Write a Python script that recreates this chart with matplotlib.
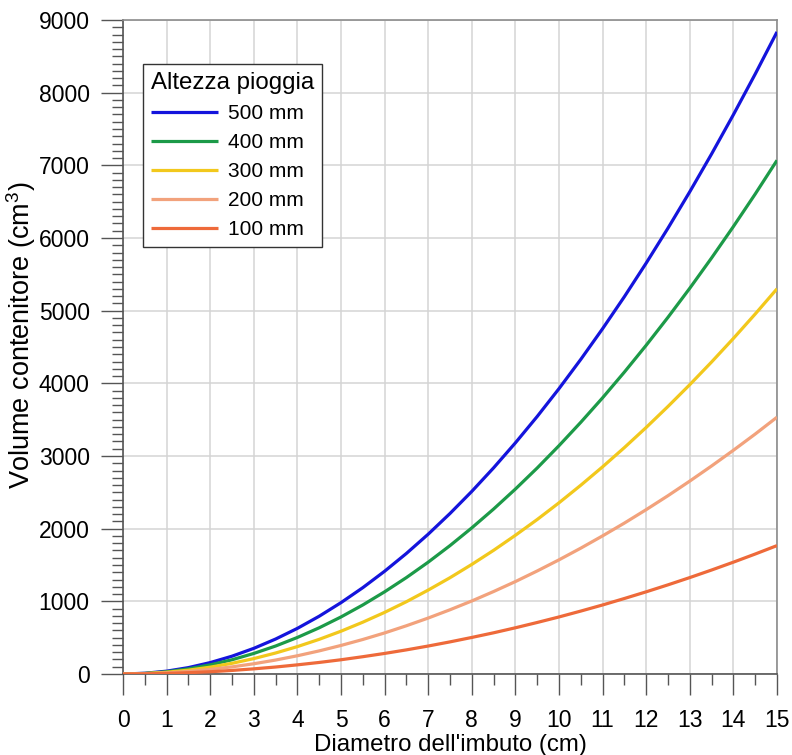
import matplotlib
matplotlib.use("Agg")
import matplotlib.pyplot as plt
from matplotlib.ticker import MultipleLocator

plt.rcParams['font.family'] = ['Liberation Sans', 'DejaVu Sans']
plt.rcParams['mathtext.fontset'] = 'custom'
plt.rcParams['mathtext.rm'] = 'Liberation Sans'

# ----------------------------------------------------------------------------------------------------------------------
# Data: diametro (cm) vs volume (cm3) for each rain height
diametro = [0, 0.5, 1, 1.5, 2, 2.5, 3, 3.5, 4, 4.5, 5, 5.5, 6, 6.5, 7, 7.5,
            8, 8.5, 9, 9.5, 10, 10.5, 11, 11.5, 12, 12.5, 13, 13.5, 14, 14.5, 15]

vol_500 = [0, 10, 39, 88, 157, 245, 353, 481, 628, 795, 982, 1188, 1414, 1659, 1924, 2209,
           2513, 2837, 3181, 3544, 3927, 4330, 4752, 5193, 5655, 6136, 6637, 7157, 7697, 8256, 8836]
vol_400 = [0, 8, 31, 71, 126, 196, 283, 385, 503, 636, 785, 950, 1131, 1327, 1539, 1767,
           2011, 2270, 2545, 2835, 3142, 3464, 3801, 4155, 4524, 4909, 5309, 5726, 6158, 6605, 7069]
vol_300 = [0, 6, 24, 53, 94, 147, 212, 289, 377, 477, 589, 713, 848, 995, 1155, 1325,
           1508, 1702, 1909, 2126, 2356, 2598, 2851, 3116, 3393, 3682, 3982, 4294, 4618, 4954, 5301]
vol_200 = [0, 4, 16, 35, 63, 98, 141, 192, 251, 318, 393, 475, 565, 664, 770, 884,
           1005, 1135, 1272, 1418, 1571, 1732, 1901, 2077, 2262, 2454, 2655, 2863, 3079, 3302, 3534]
vol_100 = [0, 2, 8, 18, 31, 49, 71, 96, 126, 159, 196, 238, 283, 332, 385, 442,
           503, 567, 636, 709, 785, 866, 950, 1039, 1131, 1227, 1327, 1431, 1539, 1651, 1767]

etichette = ['500 mm', '400 mm', '300 mm', '200 mm', '100 mm']
colori = ['#1414dc', '#1c9a48', '#f2c81c', '#f2a27c', '#ee6a3a']
# ----------------------------------------------------------------------------------------------------------------------

fig = plt.figure(figsize=(7.92, 7.55), dpi=100)
ax = fig.add_axes([123 / 792, 1 - 674 / 755, 654 / 792, 654 / 755])

serie = [vol_500, vol_400, vol_300, vol_200, vol_100]
for vals, lab, col in zip(serie, etichette, colori):
    ax.plot(diametro, vals, color=col, lw=2.3, label=lab, solid_capstyle='butt', zorder=3)

ax.set_xlim(0, 15)
ax.set_ylim(0, 9000)
ax.xaxis.set_major_locator(MultipleLocator(1))
ax.xaxis.set_minor_locator(MultipleLocator(0.5))
ax.yaxis.set_major_locator(MultipleLocator(1000))
ax.yaxis.set_minor_locator(MultipleLocator(100))

ax.grid(True, which='major', color='#d4d4d4', lw=1.1, zorder=0)
ax.set_axisbelow(True)

ax.tick_params(axis='both', which='major', direction='out', color='#555555', width=1.0, labelsize=16.5)
ax.tick_params(axis='x', which='major', length=15, pad=10)
ax.tick_params(axis='x', which='minor', direction='out', length=8, color='#555555', width=1.0)
ax.tick_params(axis='y', which='major', length=16, pad=8)
ax.tick_params(axis='y', which='minor', direction='out', length=8, color='#555555', width=1.0)

for s in ['left', 'bottom']:
    ax.spines[s].set_color('#555555')
    ax.spines[s].set_linewidth(1.2)
for s in ['top', 'right']:
    ax.spines[s].set_color('#8c8c8c')
    ax.spines[s].set_linewidth(1.2)

ax.set_xlabel("Diametro dell'imbuto (cm)", fontsize=17.3, labelpad=2)
ax.set_ylabel("Volume contenitore (cm$^3$)", fontsize=19.5)
ax.yaxis.set_label_coords(-0.13, 0.518)

leg = ax.legend(title='Altezza pioggia', loc='upper left', bbox_to_anchor=(20 / 654, 610 / 654),
                borderaxespad=0, fontsize=15, title_fontsize=17.3, frameon=True, fancybox=False,
                handlelength=3.2, handletextpad=0.48, labelspacing=0.48, borderpad=0.38)
leg._legend_box.align = 'left'
leg.get_frame().set_edgecolor('#333333')
leg.get_frame().set_linewidth(1.0)
leg.get_frame().set_alpha(1)

fig.savefig('out.png', dpi=100)
